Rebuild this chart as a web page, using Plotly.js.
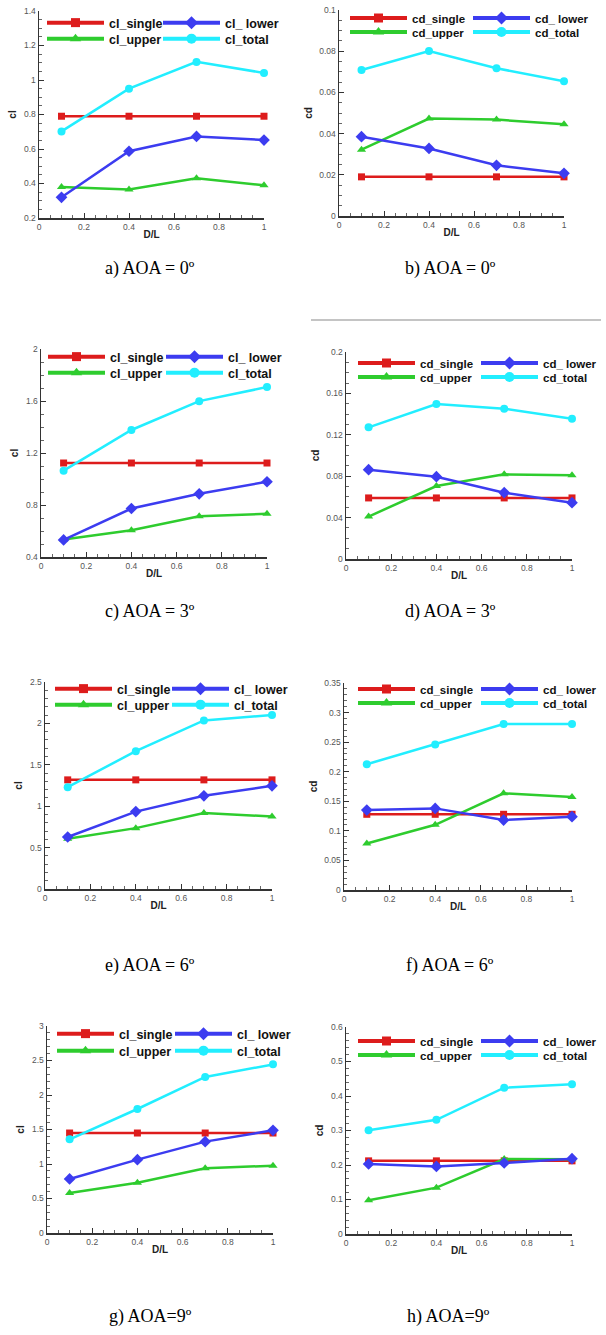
<!DOCTYPE html>
<html><head><meta charset="utf-8">
<script src="https://cdn.plot.ly/plotly-3.0.1.min.js"></script>
<style>html,body{margin:0;padding:0;background:#fff}#chart{width:606px;height:1335px}</style>
</head><body><div id="chart"></div>
<script>
// x values (D/L)
const DL = [0.1, 0.4, 0.7, 1.0];

// a) cl, AOA = 0
const cl_single_aoa0 = [0.79, 0.79, 0.79, 0.79];
const cl_upper_aoa0  = [0.38, 0.365, 0.43, 0.39];
const cl_lower_aoa0  = [0.32, 0.587, 0.673, 0.652];
const cl_total_aoa0  = [0.702, 0.95, 1.105, 1.041];
// b) cd, AOA = 0
const cd_single_aoa0 = [0.019, 0.019, 0.019, 0.019];
const cd_upper_aoa0  = [0.0322, 0.0473, 0.0468, 0.0445];
const cd_lower_aoa0  = [0.0385, 0.0328, 0.0246, 0.0207];
const cd_total_aoa0  = [0.0709, 0.0801, 0.0717, 0.0654];
// c) cl, AOA = 3
const cl_single_aoa3 = [1.123, 1.123, 1.123, 1.123];
const cl_upper_aoa3  = [0.534, 0.606, 0.714, 0.732];
const cl_lower_aoa3  = [0.531, 0.773, 0.886, 0.979];
const cl_total_aoa3  = [1.064, 1.377, 1.599, 1.707];
// d) cd, AOA = 3
const cd_single_aoa3 = [0.059, 0.059, 0.059, 0.059];
const cd_upper_aoa3  = [0.041, 0.0705, 0.0818, 0.0808];
const cd_lower_aoa3  = [0.0863, 0.0795, 0.0641, 0.0544];
const cd_total_aoa3  = [0.1272, 0.1498, 0.1452, 0.1356];
// e) cl, AOA = 6
const cl_single_aoa6 = [1.318, 1.318, 1.318, 1.318];
const cl_upper_aoa6  = [0.607, 0.735, 0.918, 0.875];
const cl_lower_aoa6  = [0.628, 0.935, 1.125, 1.246];
const cl_total_aoa6  = [1.23, 1.665, 2.036, 2.1];
// f) cd, AOA = 6
const cd_single_aoa6 = [0.128, 0.128, 0.128, 0.128];
const cd_upper_aoa6  = [0.0786, 0.1103, 0.1634, 0.1572];
const cd_lower_aoa6  = [0.1351, 0.138, 0.1182, 0.1239];
const cd_total_aoa6  = [0.2126, 0.246, 0.2805, 0.2805];
// g) cl, AOA = 9
const cl_single_aoa9 = [1.449, 1.449, 1.449, 1.449];
const cl_upper_aoa9  = [0.58, 0.729, 0.937, 0.976];
const cl_lower_aoa9  = [0.783, 1.063, 1.324, 1.488];
const cl_total_aoa9  = [1.357, 1.797, 2.261, 2.444];
// h) cd, AOA = 9
const cd_single_aoa9 = [0.212, 0.212, 0.212, 0.212];
const cd_upper_aoa9  = [0.0976, 0.1343, 0.2174, 0.217];
const cd_lower_aoa9  = [0.2029, 0.196, 0.2058, 0.2184];
const cd_total_aoa9  = [0.301, 0.331, 0.424, 0.434];

// legend labels (order: single, upper, lower, total)
const CL_NAMES = ['cl_single', 'cl_upper', 'cl_ lower', 'cl_total'];
const CD_NAMES = ['cd_single', 'cd_upper', 'cd_ lower', 'cd_total'];
const CAPTIONS = ['a) AOA = 0º', 'b) AOA = 0º', 'c) AOA = 3º', 'd) AOA = 3º',
                  'e) AOA = 6º', 'f) AOA = 6º', 'g) AOA=9º', 'h) AOA=9º'];

// ---- styling ----
const W = 606, H = 1335;
const COLORS  = ['#dd1c1c', '#2ecc2e', '#3c3cf0', '#22eeff'];
const SYMBOLS = ['square', 'triangle-up', 'diamond', 'circle'];
const MSIZE   = [7, 8, 9, 8];
const LSIZE   = [9, 10, 10, 10];
// legend slot for each series: [col,row]
const SLOT = [[0,0],[0,1],[1,0],[1,1]];

const panels = [
  {s:[cl_single_aoa0, cl_upper_aoa0, cl_lower_aoa0, cl_total_aoa0], n:CL_NAMES, yt:'cl', yr:[0.2,1.4], dt:0.2, mdt:0.05,
   box:[39,264,11,218], leg:[112,228,23,16], fs:12.5, cap:[150,268]},
  {s:[cd_single_aoa0, cd_upper_aoa0, cd_lower_aoa0, cd_total_aoa0], n:CD_NAMES, yt:'cd', yr:[0,0.1], dt:0.02, mdt:0.005,
   box:[339,564,10,216], leg:[415,538,18,14], fs:11.5, cap:[450,268]},
  {s:[cl_single_aoa3, cl_upper_aoa3, cl_lower_aoa3, cl_total_aoa3], n:CL_NAMES, yt:'cl', yr:[0.4,2], dt:0.4, mdt:0.1,
   box:[41,267,349,557], leg:[113,231,357,16], fs:12.5, cap:[150,612]},
  {s:[cd_single_aoa3, cd_upper_aoa3, cd_lower_aoa3, cd_total_aoa3], n:CD_NAMES, yt:'cd', yr:[0,0.2], dt:0.04, mdt:0.01,
   box:[346,572,352,559], leg:[423,546,363,14], fs:11.5, cap:[450,612]},
  {s:[cl_single_aoa6, cl_upper_aoa6, cl_lower_aoa6, cl_total_aoa6], n:CL_NAMES, yt:'cl', yr:[0,2.5], dt:0.5, mdt:0.1,
   box:[45,272,682,889], leg:[120,237,689,16], fs:12.5, cap:[150,965]},
  {s:[cd_single_aoa6, cd_upper_aoa6, cd_lower_aoa6, cd_total_aoa6], n:CD_NAMES, yt:'cd', yr:[0,0.35], dt:0.05, mdt:0.01,
   box:[344,572,683,890], leg:[423,546,689,14], fs:11.5, cap:[450,965]},
  {s:[cl_single_aoa9, cl_upper_aoa9, cl_lower_aoa9, cl_total_aoa9], n:CL_NAMES, yt:'cl', yr:[0,3], dt:0.5, mdt:0.1,
   box:[47,273,1026,1233], leg:[122,240,1034,17], fs:12.5, cap:[150,1316]},
  {s:[cd_single_aoa9, cd_upper_aoa9, cd_lower_aoa9, cd_total_aoa9], n:CD_NAMES, yt:'cd', yr:[0,0.6], dt:0.1, mdt:0.02,
   box:[346,572,1027,1234], leg:[423,546,1041,14], fs:11.5, cap:[448,1316]}
];

const FONT = 'Liberation Sans, Arial, sans-serif';
const ITEMW = 57;      // legend symbol width
const TEXT_OFF = 70;   // legend box left -> text start

const traces = [];
const layout = {
  width: W, height: H, margin: {l:0, r:0, t:0, b:0},
  paper_bgcolor: '#fff', plot_bgcolor: '#fff',
  showlegend: true, annotations: [], shapes: []
};

panels.forEach((p, i) => {
  const k = i === 0 ? '' : String(i + 1);
  const xa = 'x' + k, ya = 'y' + k;
  const [x0, x1, yt0, yb0] = p.box;
  layout['xaxis' + k] = {
    domain: [x0 / W, x1 / W], anchor: ya, range: [0, 1], tick0: 0, dtick: 0.2,
    ticks: 'inside', ticklen: 5, tickwidth: 1, tickcolor: '#333',
    showline: true, linecolor: '#333', linewidth: 1.5, showgrid: false, zeroline: false,
    tickfont: {family: FONT, size: 8.5, color: '#555'},
    minor: {ticks: 'inside', ticklen: 3, dtick: 0.05, tick0: 0, tickcolor: '#666', showgrid: false},
    title: {text: 'D/L', font: {family: FONT, size: 10, color: '#222', weight: 'bold'}, standoff: 0},
    automargin: false, fixedrange: true
  };
  layout['yaxis' + k] = {
    domain: [1 - yb0 / H, 1 - yt0 / H], anchor: xa, range: p.yr, tick0: 0, dtick: p.dt,
    ticks: 'inside', ticklen: 5, tickwidth: 1, tickcolor: '#333',
    showline: true, linecolor: '#333', linewidth: 1.5, showgrid: false, zeroline: false,
    tickfont: {family: FONT, size: 8.5, color: '#555'},
    minor: {ticks: 'inside', ticklen: 3, dtick: p.mdt, tick0: 0, tickcolor: '#666', showgrid: false},
    title: {text: p.yt, font: {family: FONT, size: 10, color: '#222', weight: 'bold'}, standoff: 5},
    automargin: false, fixedrange: true
  };
  // data traces
  p.s.forEach((vals, j) => {
    traces.push({
      type: 'scatter', mode: 'lines+markers', x: DL, y: vals, xaxis: xa, yaxis: ya,
      name: p.n[j], showlegend: false, cliponaxis: false,
      line: {color: COLORS[j], width: 2.5},
      marker: {color: COLORS[j], symbol: SYMBOLS[j], size: MSIZE[j]},
      hoverinfo: 'x+y+name'
    });
  });
  // legend entries (one legend per entry, two columns x two rows)
  p.s.forEach((vals, j) => {
    const li = i * 4 + j;
    const lid = li === 0 ? 'legend' : 'legend' + (li + 1);
    const [col, row] = SLOT[j];
    const tx = p.leg[col];
    const ty = p.leg[2] + row * p.leg[3];
    layout[lid] = {
      x: (tx - TEXT_OFF) / W, y: 1 - ty / H, xanchor: 'left', yanchor: 'middle',
      xref: 'paper', yref: 'paper', orientation: 'v', bgcolor: 'rgba(255,255,255,0)',
      borderwidth: 0, itemwidth: ITEMW, valign: 'middle', itemclick: false, itemdoubleclick: false,
      font: {family: FONT, size: p.fs, color: '#111', weight: 'bold'}
    };
    traces.push({
      type: 'scatter', mode: 'lines+markers', x: [null], y: [null], xaxis: xa, yaxis: ya,
      name: p.n[j], legend: lid, showlegend: true, hoverinfo: 'skip',
      line: {color: COLORS[j], width: 4},
      marker: {color: COLORS[j], symbol: SYMBOLS[j], size: LSIZE[j]}
    });
  });
  layout.annotations.push({
    xref: 'paper', yref: 'paper', x: p.cap[0] / W, y: 1 - p.cap[1] / H,
    xanchor: 'center', yanchor: 'middle', showarrow: false, text: CAPTIONS[i],
    font: {family: 'Liberation Serif, Times New Roman, serif', size: 18, color: '#000'}
  });
});

layout.shapes.push({
  type: 'line', xref: 'paper', yref: 'paper', x0: 311 / W, x1: 601 / W,
  y0: 1 - 320 / H, y1: 1 - 320 / H, line: {color: '#c4c4c4', width: 2}
});

Plotly.newPlot('chart', traces, layout, {staticPlot: true, displayModeBar: false});
</script>
</body></html>
